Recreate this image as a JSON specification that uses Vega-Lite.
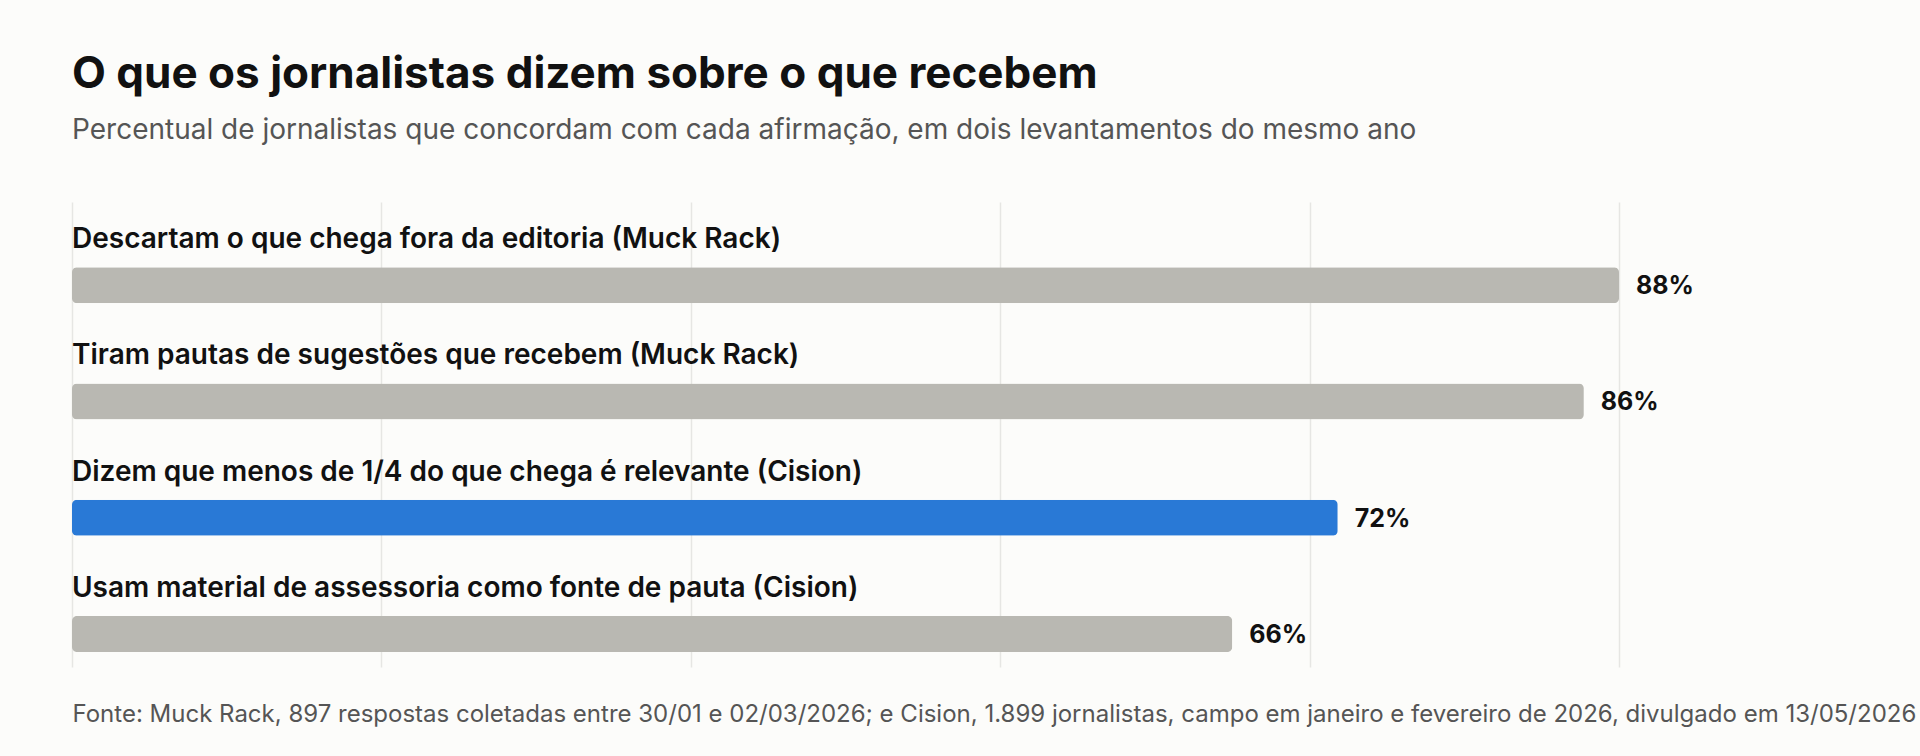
{
  "$schema": "https://vega.github.io/schema/vega-lite/v6.json",
  "width": 1547,
  "height": 465,
  "autosize": {"type": "none"},
  "padding": {"left": 72, "top": 202, "right": 301, "bottom": 89},
  "background": "#fcfcfa",
  "config": {"view": {"stroke": null}},
  "title": {
    "text": "O que os jornalistas dizem sobre o que recebem",
    "subtitle": "Percentual de jornalistas que concordam com cada afirmação, em dois levantamentos do mesmo ano",
    "anchor": "start",
    "font": "Inter",
    "fontSize": 44,
    "fontWeight": 700,
    "color": "#111111",
    "subtitleFont": "Inter",
    "subtitleFontSize": 28,
    "subtitleColor": "#555555",
    "subtitlePadding": 20,
    "offset": 57
  },
  "data": {
    "values": [
      {"afirmacao": "Descartam o que chega fora da editoria (Muck Rack)", "pct": 88, "rotulo": "88%"},
      {"afirmacao": "Tiram pautas de sugestões que recebem (Muck Rack)", "pct": 86, "rotulo": "86%"},
      {"afirmacao": "Dizem que menos de 1/4 do que chega é relevante (Cision)", "pct": 72, "rotulo": "72%"},
      {"afirmacao": "Usam material de assessoria como fonte de pauta (Cision)", "pct": 66, "rotulo": "66%"}
    ]
  },
  "encoding": {
    "y": {"field": "afirmacao", "type": "nominal", "sort": null, "axis": null,
      "scale": {"paddingInner": 0, "paddingOuter": 0}}
  },
  "layer": [
    {
      "mark": {"type": "bar", "size": 36, "yOffset": 25, "cornerRadius": 5},
      "encoding": {
        "x": {
          "field": "pct", "type": "quantitative",
          "scale": {"domain": [0, 88], "nice": false},
          "axis": {
            "values": [0, 17.6, 35.2, 52.8, 70.4, 88],
            "labels": false, "ticks": false, "domain": false,
            "grid": true, "gridColor": "#e6e6e3", "gridWidth": 1.5,
            "title": "Fonte: Muck Rack, 897 respostas coletadas entre 30/01 e 02/03/2026; e Cision, 1.899 jornalistas, campo em janeiro e fevereiro de 2026, divulgado em 13/05/2026",
            "titleFont": "Inter", "titleFontSize": 24, "titleFontWeight": 400,
            "titleColor": "#555555", "titleAnchor": "start", "titleAlign": "left",
            "titlePadding": 35
          }
        },
        "color": {
          "condition": {"test": "datum.afirmacao == 'Dizem que menos de 1/4 do que chega é relevante (Cision)'", "value": "#2979d6"},
          "value": "#b9b8b2"
        }
      }
    },
    {
      "mark": {"type": "text", "align": "left", "baseline": "middle", "yOffset": -20,
        "font": "Inter", "fontSize": 28, "fontWeight": 600, "color": "#111111"},
      "encoding": {
        "x": {"datum": 0, "type": "quantitative"},
        "text": {"field": "afirmacao"}
      }
    },
    {
      "mark": {"type": "text", "align": "left", "baseline": "middle", "yOffset": 26, "dx": 17,
        "font": "Inter", "fontSize": 25, "fontWeight": 700, "color": "#111111"},
      "encoding": {
        "x": {"field": "pct", "type": "quantitative"},
        "text": {"field": "rotulo"}
      }
    }
  ]
}
